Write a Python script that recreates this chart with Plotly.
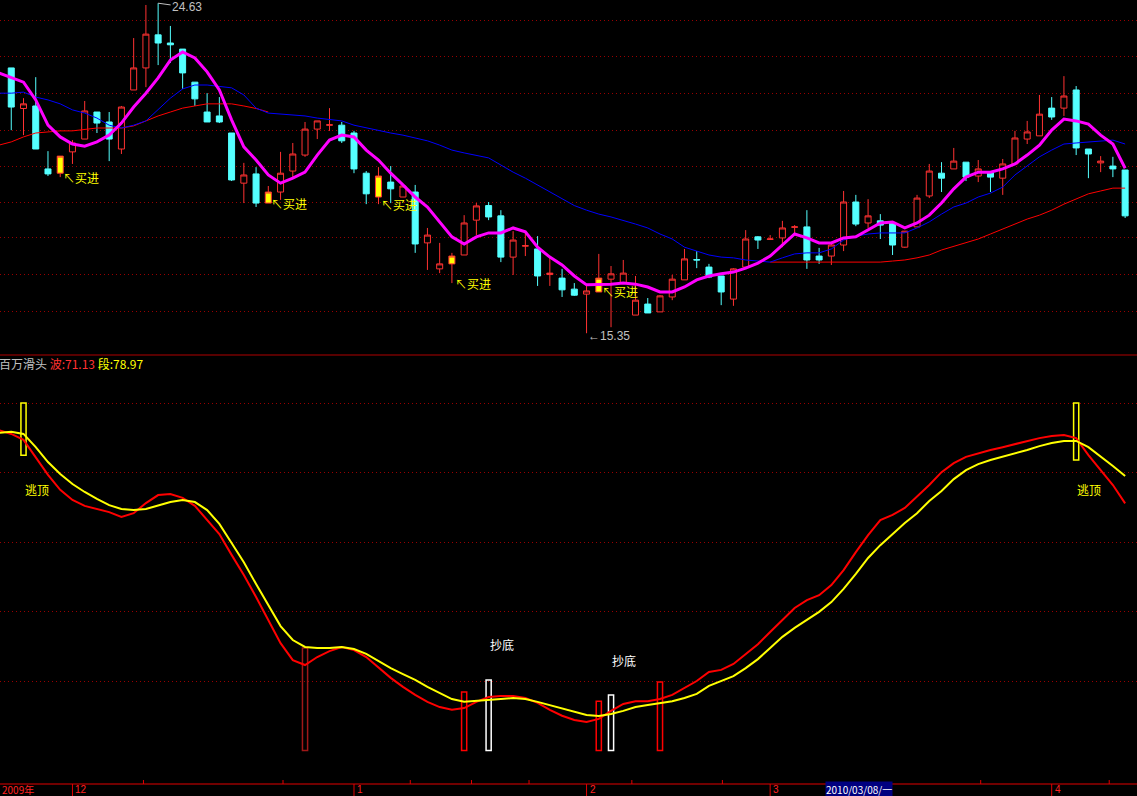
import plotly.graph_objects as go

W, H = 1137, 796

# ---------------- data ----------------
OPEN = [22.81, 21.67, 21.74, 19.97, 19.85, 20.45, 20.81, 21.57, 21.29, 20.53,
        22.19, 22.81, 23.74, 23.51, 23.34, 22.41, 21.57, 21.46, 20.98, 19.57,
        19.83, 19.01, 19.32, 19.91, 20.36, 21.09, 21.20, 21.20, 20.98, 19.85,
        19.18, 19.60, 19.18, 19.32, 17.89, 17.16, 17.30, 17.55, 18.53, 18.94,
        18.65, 17.49, 17.80, 17.72, 17.00, 16.90, 16.59, 16.45, 16.51, 16.87,
        16.76, 15.86, 16.17, 15.95, 16.37, 16.85, 17.42, 17.21, 16.96, 16.31,
        17.21, 18.06, 17.99, 18.03, 18.33, 18.34, 17.52, 17.52, 17.83, 19.04,
        18.45, 18.51, 18.45, 17.77, 18.34, 19.21, 19.85, 19.97, 20.16, 19.77,
        19.88, 19.71, 20.11, 20.81, 20.90, 21.68, 21.68, 22.19, 20.53, 20.14,
        20.05, 19.94]
HIGH = [22.81, 21.96, 22.55, 20.47, 20.33, 20.78, 21.88, 21.57, 21.57, 21.74,
        23.65, 24.58, 24.63, 23.99, 23.34, 22.41, 22.10, 21.99, 20.98, 20.14,
        20.02, 19.49, 20.45, 20.70, 21.29, 21.32, 21.68, 21.29, 21.04, 19.91,
        20.02, 20.05, 19.49, 19.52, 18.31, 17.89, 17.61, 18.67, 19.01, 19.04,
        18.81, 18.22, 18.22, 18.08, 17.49, 17.16, 16.76, 16.71, 17.58, 17.24,
        17.41, 16.96, 16.34, 16.42, 16.99, 17.72, 17.66, 17.30, 16.96, 17.18,
        18.25, 18.08, 18.11, 18.51, 18.39, 18.81, 17.75, 17.91, 19.35, 19.24,
        19.12, 18.70, 18.45, 18.22, 19.24, 20.11, 20.16, 20.56, 20.16, 20.22,
        19.88, 20.25, 21.04, 21.32, 22.05, 21.99, 22.58, 22.30, 20.53, 20.33,
        20.31, 19.94]
LOW = [21.06, 20.92, 20.53, 19.77, 19.74, 20.11, 20.81, 20.98, 20.19, 20.39,
       22.19, 22.27, 22.89, 22.95, 22.22, 21.74, 21.29, 21.26, 19.63, 19.01,
       18.90, 19.01, 19.10, 19.74, 20.31, 20.81, 21.04, 20.70, 19.85, 18.98,
       18.98, 19.01, 19.18, 17.61, 17.13, 17.04, 16.76, 17.55, 18.11, 18.53,
       17.35, 16.99, 17.52, 16.68, 16.68, 16.37, 16.40, 15.35, 16.51, 15.52,
       16.76, 15.86, 15.92, 15.95, 16.28, 16.85, 17.18, 16.90, 16.14, 16.12,
       17.21, 17.72, 17.97, 17.77, 18.17, 17.16, 17.30, 17.27, 17.66, 18.36,
       18.31, 18.00, 17.55, 17.75, 18.34, 19.15, 19.32, 19.97, 19.63, 19.60,
       19.32, 19.24, 20.11, 20.67, 20.90, 21.35, 21.46, 20.36, 19.71, 19.88,
       19.74, 18.59]
CLOSE = [21.71, 21.80, 20.53, 19.83, 20.33, 20.70, 21.60, 21.26, 20.81, 21.71,
         22.81, 23.76, 23.51, 23.46, 22.67, 21.94, 21.29, 21.29, 19.66, 19.80,
         19.01, 19.32, 19.85, 20.39, 21.09, 21.32, 21.21, 20.76, 19.97, 19.27,
         19.77, 19.41, 19.49, 17.86, 18.11, 17.30, 17.52, 18.45, 18.93, 18.62,
         17.49, 17.97, 17.81, 16.96, 17.04, 16.57, 16.42, 16.54, 16.90, 17.02,
         17.04, 16.28, 15.92, 16.40, 16.87, 17.44, 17.41, 16.93, 16.51, 17.16,
         18.00, 17.97, 18.00, 18.31, 18.34, 17.41, 17.41, 17.83, 19.04, 18.42,
         18.65, 18.39, 17.83, 18.22, 19.15, 19.91, 19.71, 20.19, 19.74, 19.97,
         19.74, 20.11, 20.84, 21.01, 21.51, 21.43, 22.02, 20.56, 20.39, 20.19,
         19.97, 18.65]
BUY_IDX = [4, 21, 30, 36, 48]          # candles flagged 买进 (drawn yellow)

LINE_X = list(range(-1, 92))
MA_FAST = [22.67, 22.53, 22.41, 21.91, 21.20, 20.87, 20.67, 20.61, 20.73, 20.92,
           21.26, 21.71, 22.10, 22.53, 23.03, 23.26, 23.09, 22.70, 22.19, 21.35,
           20.59, 20.22, 19.80, 19.57, 19.71, 19.88, 20.36, 20.78, 20.92, 20.87,
           20.50, 20.22, 19.85, 19.52, 19.18, 18.90, 18.48, 18.06, 17.86, 18.06,
           18.17, 18.17, 18.31, 18.20, 17.77, 17.49, 17.27, 16.96, 16.71, 16.71,
           16.73, 16.76, 16.73, 16.65, 16.51, 16.51, 16.65, 16.85, 16.96, 17.02,
           17.07, 17.18, 17.32, 17.52, 17.83, 18.14, 18.03, 17.89, 17.89, 18.03,
           18.06, 18.25, 18.45, 18.48, 18.31, 18.45, 18.67, 19.01, 19.41, 19.74,
           19.88, 19.88, 19.97, 20.11, 20.36, 20.64, 21.06, 21.37, 21.32, 21.23,
           20.92, 20.67, 19.99]
MA_MID = [22.10, 22.10, 22.13, 21.99, 21.91, 21.80, 21.63, 21.54, 21.40, 21.20,
          21.12, 21.20, 21.32, 21.63, 21.96, 22.22, 22.33, 22.33, 22.30, 22.25,
          22.05, 21.68, 21.54, 21.51, 21.49, 21.46, 21.40, 21.37, 21.32, 21.20,
          21.12, 21.04, 20.98, 20.92, 20.84, 20.76, 20.64, 20.50, 20.42, 20.36,
          20.28, 20.08, 19.88, 19.71, 19.52, 19.32, 19.15, 18.94, 18.81, 18.70,
          18.62, 18.53, 18.42, 18.31, 18.14, 18.00, 17.77, 17.66, 17.55, 17.49,
          17.47, 17.41, 17.38, 17.35, 17.47, 17.58, 17.61, 17.61, 17.72, 17.97,
          18.08, 18.14, 18.17, 18.17, 18.17, 18.31, 18.48, 18.70, 18.90, 19.01,
          19.18, 19.29, 19.46, 19.80, 20.05, 20.31, 20.50, 20.67, 20.70, 20.73,
          20.76, 20.78, 20.67]
MA_SLOW = ([20.64, 20.73, 20.87, 20.98, 21.01, 21.04, 21.04, 21.09, 21.12, 21.12,
            21.12, 21.18, 21.32, 21.46, 21.57, 21.68, 21.74, 21.80, 21.80, 21.80,
            21.74, 21.67, 21.57]
           + [None] * 40
           + [17.35, 17.35, 17.35, 17.35, 17.35, 17.35, 17.35,
              17.35, 17.35, 17.35, 17.38, 17.41, 17.47, 17.55, 17.69, 17.80, 17.91,
              18.00, 18.14, 18.28, 18.42, 18.56, 18.67, 18.81, 18.98, 19.12, 19.27,
              19.35, 19.43, 19.43])

WAVE = [92.2, 91.1, 89.4, 84.2, 79.3, 75.0, 72.1, 70.4, 69.5, 68.6,
        67.2, 68.3, 71.2, 73.5, 73.8, 72.7, 70.4, 66.3, 62.3, 56.3,
        50.5, 44.2, 37.6, 30.9, 26.0, 24.6, 26.9, 28.6, 29.8, 28.9,
        26.9, 24.0, 20.9, 18.3, 16.0, 14.0, 12.5, 11.7, 12.2, 14.0,
        15.4, 15.7, 15.7, 15.1, 13.7, 11.7, 10.0, 8.8, 8.2, 9.1,
        11.4, 13.4, 14.2, 14.2, 14.8, 16.0, 18.0, 20.0, 22.6, 23.2,
        24.9, 27.8, 30.6, 34.1, 37.6, 41.0, 43.3, 44.7, 47.6, 51.9,
        57.1, 62.0, 66.3, 67.8, 69.8, 73.0, 76.4, 80.1, 82.7, 84.5,
        85.6, 86.5, 87.3, 88.2, 89.1, 89.9, 90.5, 90.8, 89.9, 85.0,
        80.7, 76.4, 71.13]
SEG = [91.4, 91.7, 91.1, 87.3, 83.0, 79.6, 76.7, 74.4, 72.4, 70.6,
       69.5, 69.2, 69.5, 70.4, 71.5, 72.1, 71.5, 69.2, 65.2, 59.7,
       54.2, 47.9, 41.9, 35.8, 31.8, 29.8, 29.5, 29.5, 29.8, 29.2,
       27.8, 25.8, 23.7, 22.0, 20.3, 18.3, 16.5, 14.8, 14.0, 14.2,
       14.5, 14.8, 15.1, 14.8, 14.0, 13.1, 12.2, 11.1, 10.2, 9.9,
       10.5, 11.4, 12.5, 13.1, 13.7, 14.2, 15.1, 16.3, 18.6, 20.0,
       21.4, 23.7, 26.3, 29.5, 32.7, 35.3, 37.6, 39.9, 42.7, 46.5,
       50.8, 55.4, 59.1, 62.3, 65.5, 68.3, 71.8, 74.7, 78.1, 80.7,
       82.4, 83.6, 84.5, 85.6, 86.5, 87.6, 88.5, 89.1, 89.1, 87.3,
       84.7, 81.9, 78.97]

ESCAPE_IDX = [1, 87]            # 逃顶 signals
ESCAPE_LOW = [85.0, 83.6]
ESCAPE_TOP = 100
RED_SIG_IDX = [37, 48, 53]
RED_SIG = [16.8, 14.2, 19.7]
WHITE_SIG_IDX = [39, 49]        # 抄底 signals
WHITE_SIG = [20.3, 16.0]
WEAK_SIG_IDX = [24]
WEAK_SIG = [29.5]

PRICE_GRID = [24.13, 23.12, 22.08, 21.06, 20.05, 19.04, 18.03, 16.99, 15.97]
IND_GRID = [20, 40, 60, 80, 100]
MONTH_LABELS = ["12", "1", "2", "3", "4"]
MONTH_IDX = [5, 28, 47, 62, 85]
WEEK_TICK_IDX = [10.8, 22.2, 32.6, 37.6, 42.3, 50.7, 58.1, 79.2, 89.7]

WAVE_NAME, WAVE_LAST = "波", WAVE[-1]
SEG_NAME, SEG_LAST = "段", SEG[-1]

# ---------------- figure ----------------
CJK = "Noto Sans CJK SC, Liberation Sans, sans-serif"
NUM = "Liberation Sans, Arial, sans-serif"
UP, DOWN = "#ff3232", "#54ffff"

fig = go.Figure()

norm = [i for i in range(len(OPEN)) if i not in BUY_IDX]
fig.add_trace(go.Candlestick(
    x=norm, open=[OPEN[i] for i in norm], high=[HIGH[i] for i in norm],
    low=[LOW[i] for i in norm], close=[CLOSE[i] for i in norm],
    increasing=dict(line=dict(color=UP, width=1), fillcolor="#000000"),
    decreasing=dict(line=dict(color=DOWN, width=1), fillcolor=DOWN),
    whiskerwidth=0, xaxis="x", yaxis="y", showlegend=False, hoverinfo="skip"))
fig.add_trace(go.Candlestick(
    x=BUY_IDX, open=[OPEN[i] for i in BUY_IDX], high=[HIGH[i] for i in BUY_IDX],
    low=[LOW[i] for i in BUY_IDX], close=[CLOSE[i] for i in BUY_IDX],
    increasing=dict(line=dict(color=UP, width=1), fillcolor="#ffff00"),
    decreasing=dict(line=dict(color=UP, width=1), fillcolor="#ffff00"),
    whiskerwidth=0, xaxis="x", yaxis="y", showlegend=False, hoverinfo="skip"))

fig.add_trace(go.Scatter(x=LINE_X, y=MA_SLOW, mode="lines", connectgaps=False,
                         line=dict(color="#ff0000", width=1), xaxis="x", yaxis="y",
                         showlegend=False, hoverinfo="skip"))
fig.add_trace(go.Scatter(x=LINE_X, y=MA_MID, mode="lines",
                         line=dict(color="#0000ff", width=1), xaxis="x", yaxis="y",
                         showlegend=False, hoverinfo="skip"))
fig.add_trace(go.Scatter(x=LINE_X, y=MA_FAST, mode="lines",
                         line=dict(color="#ff00ff", width=3), xaxis="x", yaxis="y",
                         showlegend=False, hoverinfo="skip"))

# lower panel
fig.add_trace(go.Scatter(x=LINE_X, y=WAVE, mode="lines",
                         line=dict(color="#ff0000", width=2), xaxis="x", yaxis="y2",
                         showlegend=False, hoverinfo="skip"))
fig.add_trace(go.Scatter(x=LINE_X, y=SEG, mode="lines",
                         line=dict(color="#ffff00", width=2), xaxis="x", yaxis="y2",
                         showlegend=False, hoverinfo="skip"))


def hollow_bars(xs, tops, bases, color):
    fig.add_trace(go.Bar(x=xs, y=[t - b for t, b in zip(tops, bases)], base=bases,
                         width=0.42, xaxis="x", yaxis="y2", showlegend=False,
                         hoverinfo="skip",
                         marker=dict(color="rgba(0,0,0,0)",
                                     line=dict(color=color, width=1.5))))


hollow_bars(ESCAPE_IDX, [ESCAPE_TOP] * len(ESCAPE_IDX), ESCAPE_LOW, "#ffff00")
hollow_bars(WEAK_SIG_IDX, WEAK_SIG, [0] * len(WEAK_SIG), "#a01818")
hollow_bars(RED_SIG_IDX, RED_SIG, [0] * len(RED_SIG), "#ff0000")
hollow_bars(WHITE_SIG_IDX, WHITE_SIG, [0] * len(WHITE_SIG), "#ffffff")

ann = []
for i in BUY_IDX:
    ann.append(dict(x=i, y=LOW[i], xref="x", yref="y", text="↖买进", showarrow=False,
                    xanchor="left", yanchor="middle", xshift=1,
                    font=dict(family=CJK, size=12, color="#ffff00")))
hi_i = max(range(len(HIGH)), key=lambda k: HIGH[k])
lo_i = min(range(len(LOW)), key=lambda k: LOW[k])
ann.append(dict(x=hi_i, y=HIGH[hi_i], xref="x", yref="y", text=f"{HIGH[hi_i]:.2f}",
                showarrow=True, ax=29, ay=4, arrowhead=0, arrowwidth=1,
                arrowcolor="#c0c0c0", font=dict(family=NUM, size=12, color="#c0c0c0")))
ann.append(dict(x=lo_i, y=LOW[lo_i], xref="x", yref="y", text=f"←{LOW[lo_i]:.2f}",
                showarrow=False, xanchor="left", yanchor="middle", yshift=-3, xshift=-1,
                font=dict(family=NUM, size=12, color="#c0c0c0")))
for i in ESCAPE_IDX:
    ann.append(dict(x=i, y=75, xref="x", yref="y2", text="逃顶", showarrow=False,
                    xshift=13, font=dict(family=CJK, size=12, color="#ffff00")))
for i, yy in zip(WHITE_SIG_IDX, [30.6, 26.0]):
    ann.append(dict(x=i, y=yy, xref="x", yref="y2", text="抄底", showarrow=False,
                    xshift=13, font=dict(family=CJK, size=12, color="#ffffff")))
ann.append(dict(x=-3 / W, y=1 - 363 / H, xref="paper", yref="paper", xanchor="left",
                yanchor="middle", showarrow=False,
                text=(f"<span style='color:#c0c0c0'>百万滑头</span> "
                      f"<span style='color:#ff3232'>{WAVE_NAME}:{WAVE_LAST:.2f}</span> "
                      f"<span style='color:#ffff00'>{SEG_NAME}:{SEG_LAST:.2f}</span>"),
                font=dict(family=CJK, size=12)))
AX_Y = 1 - 789.5 / H
ann.append(dict(x=0, y=AX_Y, xref="paper", yref="paper", xanchor="left", yanchor="middle",
                text="2009年", showarrow=False, font=dict(family=CJK, size=10, color="#ff2020")))
for lab, i in zip(MONTH_LABELS, MONTH_IDX):
    ann.append(dict(x=i, y=AX_Y, xref="x", yref="paper", xanchor="left", yanchor="middle",
                    xshift=1, text=lab, showarrow=False,
                    font=dict(family=NUM, size=10, color="#ff2020")))
ann.append(dict(x=825 / W, y=AX_Y, xref="paper", yref="paper", xanchor="left",
                yanchor="middle", text="2010/03/08/一", showarrow=False, bgcolor="#000080",
                borderpad=0, font=dict(family=CJK, size=10, color="#ffffff")))

shapes = [
    dict(type="line", xref="paper", yref="paper", x0=0, x1=1, y0=1 - 355 / H, y1=1 - 355 / H,
         line=dict(color="#b00000", width=1)),
    dict(type="line", xref="paper", yref="paper", x0=0, x1=1, y0=1 - 784 / H, y1=1 - 784 / H,
         line=dict(color="#e00000", width=1)),
]
for i in MONTH_IDX:
    shapes.append(dict(type="line", xref="x", yref="paper", x0=i, x1=i, y0=0,
                       y1=1 - 784 / H, line=dict(color="#e00000", width=1)))
for i in WEEK_TICK_IDX:
    shapes.append(dict(type="line", xref="x", yref="paper", x0=i, x1=i,
                       y0=1 - 784 / H, y1=1 - 780 / H, line=dict(color="#e00000", width=1)))

GRID = dict(showgrid=True, gridcolor="#990000", gridwidth=1, griddash="1px,3px",
            zeroline=False, showticklabels=False, ticks="", showline=False)

fig.update_layout(
    width=W, height=H, margin=dict(l=0, r=0, t=0, b=0),
    paper_bgcolor="#000000", plot_bgcolor="#000000",
    showlegend=False, hovermode=False, barmode="overlay",
    xaxis=dict(range=[-0.92, 91.97], domain=[0, 1], anchor="y", showgrid=False,
               zeroline=False, showticklabels=False, ticks="", showline=False,
               rangeslider=dict(visible=False), fixedrange=True),
    yaxis=dict(domain=[1 - 354 / H, 1], range=[14.766, 24.72], tickvals=PRICE_GRID,
               fixedrange=True, **GRID),
    yaxis2=dict(domain=[1 - 784 / H, 1 - 365 / H], range=[-9.64, 110.94],
                tickvals=IND_GRID, fixedrange=True, **GRID),
    annotations=ann, shapes=shapes,
)

fig.write_html(
    "out.html",
    config={"displayModeBar": False, "staticPlot": True},
    post_script="document.body.style.margin='0';document.body.style.overflow='hidden';",
)
